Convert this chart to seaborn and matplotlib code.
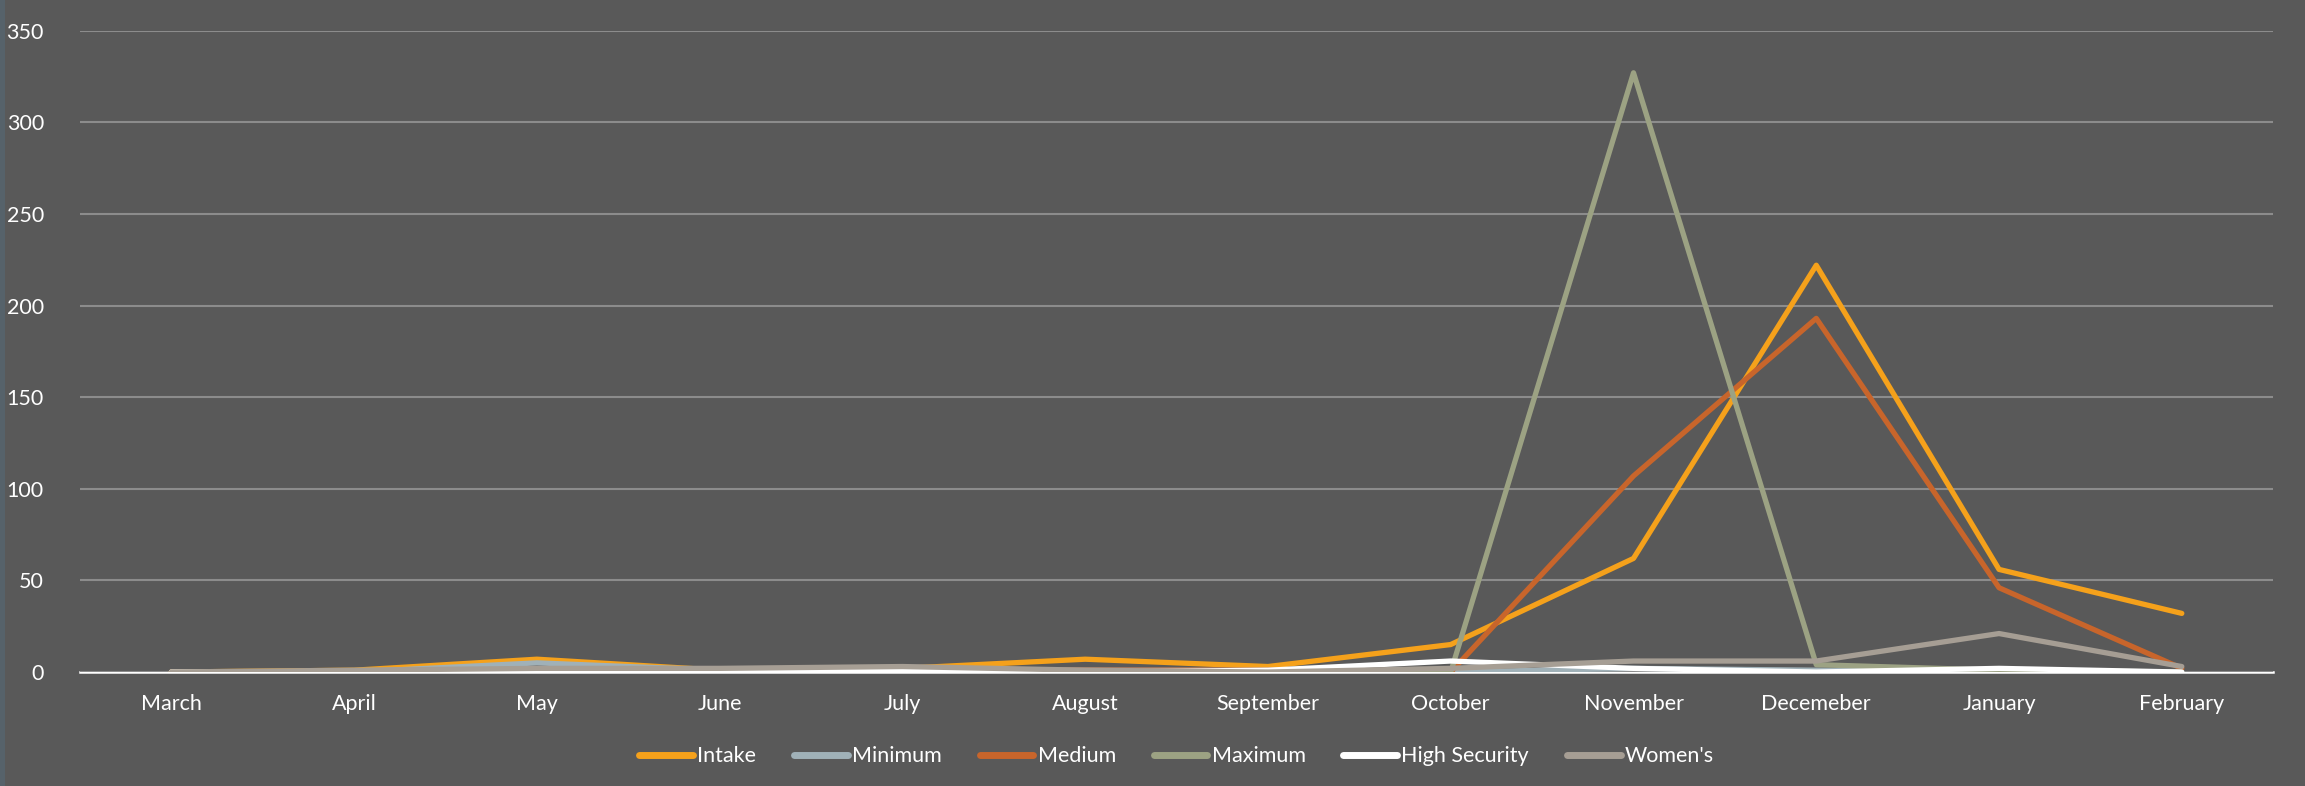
import matplotlib
matplotlib.use("Agg")
import matplotlib.pyplot as plt
import seaborn as sns
import pandas as pd
from matplotlib.patches import Rectangle

months = ["March", "April", "May", "June", "July", "August", "September",
          "October", "November", "Decemeber", "January", "February"]
intake = [0, 1, 7, 1, 2, 7, 3, 15, 62, 222, 56, 32]
minimum = [0, 0, 5, 1, 1, 1, 1, 0, 2, 1, 0, 0]
medium = [0, 0, 1, 0, 1, 1, 1, 0, 107, 193, 46, 2]
maximum = [0, 0, 0, 0, 0, 0, 0, 0, 327, 4, 1, 0]
high_security = [0, 0, 0, 0, 1, 0, 1, 6, 2, 0, 2, 0]
womens = [0, 1, 2, 2, 3, 1, 0, 2, 6, 6, 21, 3]

series_names = ["Intake", "Minimum", "Medium", "Maximum", "High Security", "Women's"]
series_values = [intake, minimum, medium, maximum, high_security, womens]
colors = ["#F5A11B", "#A0B1B8", "#C8652B", "#9CA283", "#FFFFFF", "#A69E94"]

rows = []
for name, vals in zip(series_names, series_values):
    for i, (m, v) in enumerate(zip(months, vals)):
        rows.append({"Month": m, "idx": i, "Series": name, "Value": v})
df = pd.DataFrame(rows)

sns.set_theme(style="white")
plt.rcParams["font.family"] = ["Lato", "DejaVu Sans"]

bg = "#595959"
fig = plt.figure(figsize=(23.05, 7.86), dpi=100, facecolor=bg)
ax = fig.add_axes([0.0347, 0.145, 0.9515, 0.816])
ax.set_facecolor(bg)

ax.set_ylim(0, 350)
ax.set_yticks(range(0, 351, 50))
ax.yaxis.grid(True, color="#8C8C8C", linewidth=1.5)
ax.set_axisbelow(True)

sns.lineplot(data=df, x="idx", y="Value", hue="Series", hue_order=series_names,
             palette=dict(zip(series_names, colors)), linewidth=3.8, ax=ax,
             legend=True, sort=False)

ax.set_xlim(-0.5, len(months) - 0.5)
ax.set_xticks(range(len(months)))
ax.set_xticklabels(months)
ax.set_xlabel("")
ax.set_ylabel("")
for s in ["left", "right", "top"]:
    ax.spines[s].set_visible(False)
ax.spines["bottom"].set_color("white")
ax.spines["bottom"].set_linewidth(1.8)
ax.spines["bottom"].set_zorder(0.5)
ax.tick_params(axis="both", length=0, colors="white", labelsize=15.5)
ax.tick_params(axis="x", pad=16)
ax.tick_params(axis="y", pad=26)

handles, labels = ax.get_legend_handles_labels()
leg = ax.legend(handles, labels, loc="center", bbox_to_anchor=(0.5, -0.131),
                ncol=6, frameon=False, fontsize=15.5, handlelength=2.5,
                handletextpad=0.2, columnspacing=1.75)
for t in leg.get_texts():
    t.set_color("white")
for h in leg.get_lines():
    h.set_linewidth(5)
    h.set_solid_capstyle("round")

fig.patches.append(Rectangle((0, 0), 5 / 2305, 1, transform=fig.transFigure,
                             facecolor="#56626A", edgecolor="none"))

fig.savefig("out.png", dpi=100, facecolor=bg)
